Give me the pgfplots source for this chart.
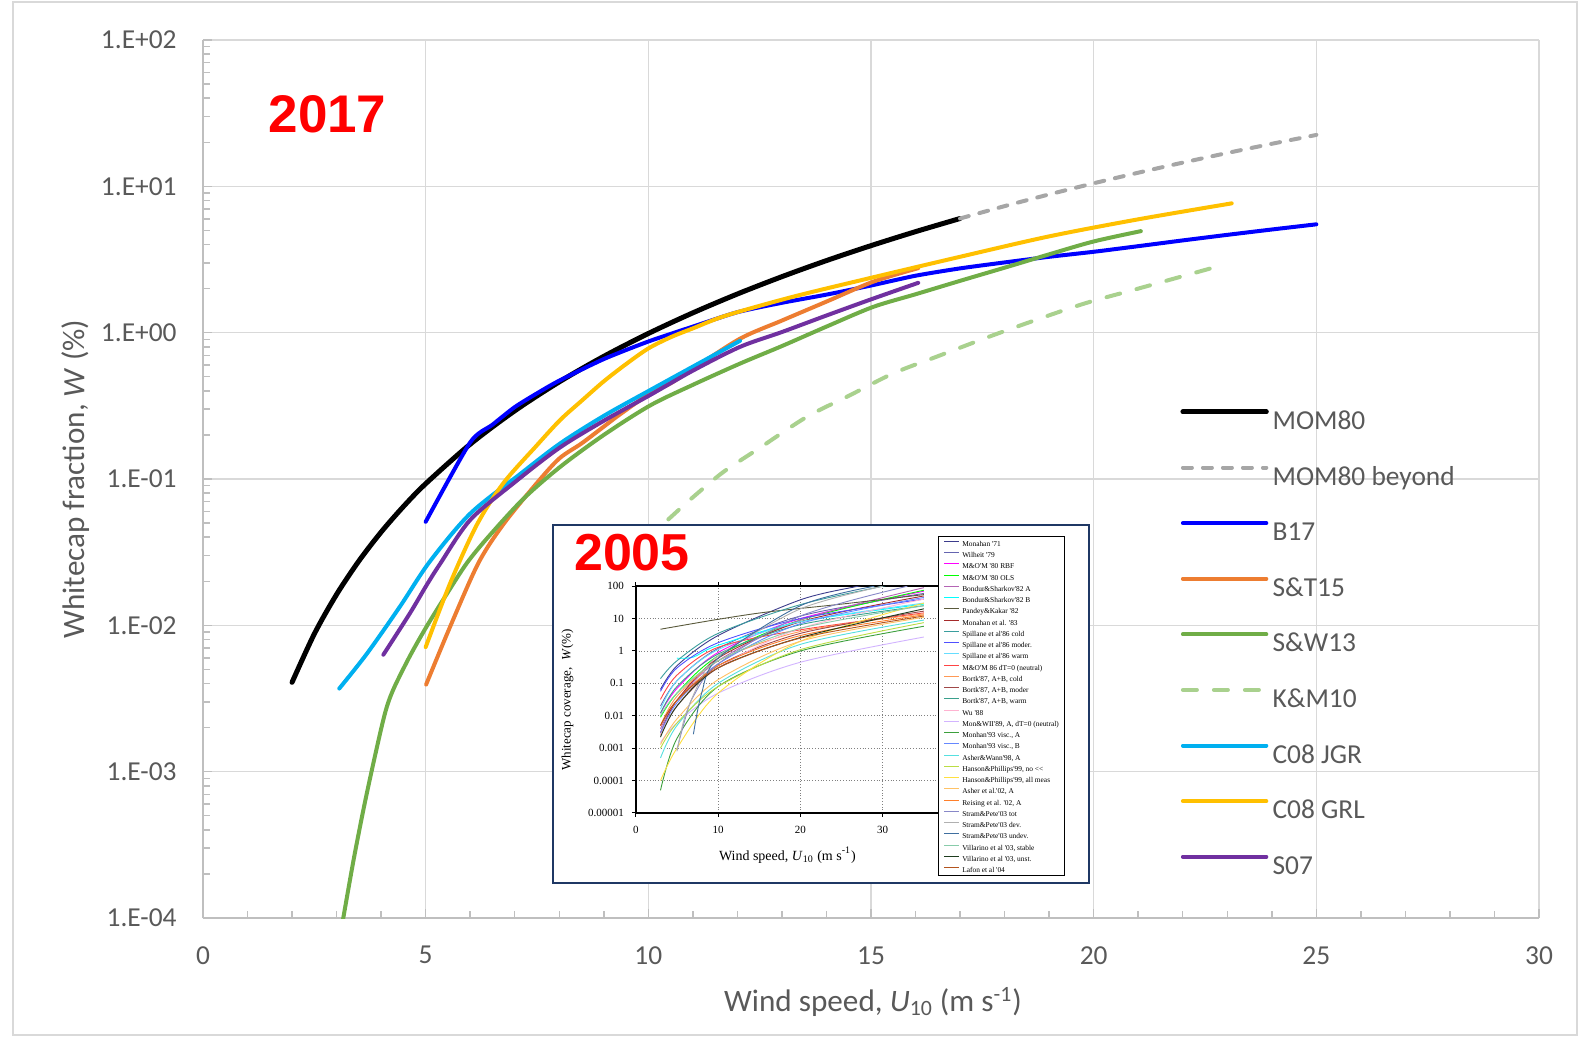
\documentclass[border=0pt]{standalone}
\usepackage{pgfplots}
\pgfplotsset{compat=1.18}
\usepackage{fontspec}
\setmainfont{Carlito}
\newfontfamily\arialfont{Liberation Sans}
\newfontfamily\timesfont{Liberation Serif}
\definecolor{ticktext}{HTML}{595959}
\definecolor{axisgray}{HTML}{BFBFBF}
\definecolor{gridgray}{HTML}{D9D9D9}
\definecolor{navybox}{HTML}{1F3864}
\definecolor{beyond}{HTML}{A6A6A6}
\definecolor{stOrange}{HTML}{ED7D31}
\definecolor{swGreen}{HTML}{70AD47}
\definecolor{kmGreen}{HTML}{A9D18E}
\definecolor{jgr}{HTML}{00B0F0}
\definecolor{grl}{HTML}{FFC000}
\definecolor{sseven}{HTML}{7030A0}
\definecolor{bseventeen}{HTML}{0000FF}
% inset colours
\definecolor{i1}{HTML}{3C3C8C}
\definecolor{i2}{HTML}{6565B0}
\definecolor{i3}{HTML}{FF00FF}
\definecolor{i4}{HTML}{00FF00}
\definecolor{i5}{HTML}{B464B4}
\definecolor{i6}{HTML}{00FFFF}
\definecolor{i7}{HTML}{5A5A3C}
\definecolor{i8}{HTML}{A52A2A}
\definecolor{i9}{HTML}{3A9E9E}
\definecolor{i10}{HTML}{5050FF}
\definecolor{i11}{HTML}{66DDFF}
\definecolor{i12}{HTML}{FF4444}
\definecolor{i13}{HTML}{FF9955}
\definecolor{i14}{HTML}{A04848}
\definecolor{i15}{HTML}{3AA08C}
\definecolor{i16}{HTML}{FFB3D1}
\definecolor{i17}{HTML}{D2B4FF}
\definecolor{i18}{HTML}{3CA03C}
\definecolor{i19}{HTML}{6688FF}
\definecolor{i20}{HTML}{55E0E0}
\definecolor{i21}{HTML}{BBDD44}
\definecolor{i22}{HTML}{FFE040}
\definecolor{i23}{HTML}{FFC266}
\definecolor{i24}{HTML}{FF7F2A}
\definecolor{i25}{HTML}{8888C8}
\definecolor{i26}{HTML}{B0B0B0}
\definecolor{i27}{HTML}{3F6F9F}
\definecolor{i28}{HTML}{88CCAA}
\definecolor{i29}{HTML}{1E3C1E}
\definecolor{i30}{HTML}{B3541E}
\begin{document}
\begin{tikzpicture}
\useasboundingbox (-101.5pt,-60pt) rectangle (688.5pt,459pt);
\draw[gridgray, line width=0.75pt] (-95pt,-58.5pt) rectangle (687pt,458pt);
\begin{axis}[
  at={(0pt,0pt)}, anchor=south west,
  scale only axis, width=668pt, height=439pt,
  xmin=0, xmax=30, ymode=log, ymin=1e-4, ymax=1e2,
  axis x line*=bottom, axis y line*=left,
  axis line style={draw=axisgray, line width=1pt},
  xtick={0,5,10,15,20,25,30},
  xticklabels={0,5,10,15,20,25,30},
  minor xtick={1,2,3,4,6,7,8,9,11,12,13,14,16,17,18,19,21,22,23,24,26,27,28,29},
  ytick={1e-4,1e-3,1e-2,1e-1,1,10,100},
  yticklabels={1.E-04,1.E-03,1.E-02,1.E-01,1.E+00,1.E+01,1.E+02},
  minor ytick={2e-4,3e-4,4e-4,5e-4,6e-4,7e-4,8e-4,9e-4,2e-3,3e-3,4e-3,5e-3,6e-3,7e-3,8e-3,9e-3,2e-2,3e-2,4e-2,5e-2,6e-2,7e-2,8e-2,9e-2,0.2,0.3,0.4,0.5,0.6,0.7,0.8,0.9,2,3,4,5,6,7,8,9,20,30,40,50,60,70,80,90},
  grid=major, major grid style={draw=gridgray, line width=0.75pt},
  tick style={draw=axisgray, line width=0.75pt},
  tick align=inside, major tick length=4.5pt, minor tick length=3.4pt,
  xticklabel style={font=\fontsize{13.7}{16}\selectfont, text=ticktext, inner sep=0pt, anchor=north, yshift=-14pt},
  yticklabel style={font=\fontsize{13.7}{16}\selectfont, text=ticktext, inner sep=0pt, anchor=east, xshift=-13pt},
  legend cell align=left,
  legend style={at={(rel axis cs:0.7313,0.5897)}, anchor=north west, draw=none, fill=none, inner sep=0pt,
    /tikz/row sep=13.6pt,
    nodes={inner sep=0pt, text height=8.8pt, text depth=0pt, font=\fontsize{13.7}{16}\selectfont, text=ticktext}},
  legend image code/.code={\draw[#1] (0pt,4.4pt) -- (41.7pt,4.4pt); \path (0pt,0pt) (43.6pt,8.8pt);},
]
\addplot[black, line width=2.5pt, line cap=round, smooth] coordinates {
(2,0.00408) (2.5,0.00874) (3,0.01627) (3.5,0.02752) (4,0.04339) (4.5,0.06481) (5,0.09285) (6,0.1729) (7,0.2924) (8,0.4611) (9,0.6890) (10,0.9870) (11,1.366) (12,1.838) (13,2.414) (14,3.109) (15,3.933) (16,4.901) (17,6.027)};
\addlegendentry{MOM80}
\addplot[beyond, line width=2pt, line cap=round, dash pattern=on 4.5pt off 5.5pt, smooth] coordinates {
(17,6.027) (18,7.324) (19,8.806) (20,10.49) (21,12.39) (22,14.52) (23,16.90) (24,19.53) (25,22.45)};
\addlegendentry{MOM80 beyond}
\addplot[bseventeen, line width=2pt, line cap=round, smooth, tension=0.4] coordinates {
(5,0.051) (6,0.178) (6.5,0.235) (7,0.31) (7.5,0.385) (8,0.47) (9,0.66) (10,0.87) (11,1.1) (12,1.38) (13,1.6) (14,1.82) (15,2.1) (16,2.45) (17,2.75) (18,3.02) (19,3.3) (20,3.57) (21,3.9) (22,4.27) (23,4.66) (24,5.07) (25,5.5)};
\addlegendentry{B17}
\addplot[stOrange, line width=2pt, line cap=round, smooth] coordinates {
(5.01,0.00394) (5.55,0.0098) (6.18,0.0265) (6.74,0.0488) (7.49,0.0933) (8,0.138) (8.5,0.175) (9,0.228) (9.36,0.276) (10.04,0.385) (10.49,0.449) (11,0.565) (12.06,0.91) (13,1.21) (14,1.63) (15.05,2.23) (16.06,2.76)};
\addlegendentry{S\&T15}
\addplot[swGreen, line width=2pt, line cap=round, smooth] coordinates {
(3.1,0.000082) (3.15,0.0001) (3.38,0.000248) (3.6,0.000546) (3.79,0.00102) (4.01,0.00202) (4.14,0.00285) (4.3,0.0038) (4.65,0.0062) (5.02,0.0098) (5.47,0.0163) (5.92,0.0265) (6.4,0.040) (7.19,0.073) (8.02,0.121) (9,0.2) (10.04,0.318) (11,0.44) (12.06,0.615) (13,0.81) (14,1.1) (15.05,1.5) (16,1.83) (17,2.26) (18,2.78) (19,3.43) (20,4.2) (21.06,4.94)};
\addlegendentry{S\&W13}
\addplot[kmGreen, line width=2pt, line cap=round, dash pattern=on 7pt off 8.5pt, smooth] coordinates {
(10.45,0.053) (11,0.075) (11.69,0.112) (12.5,0.163) (13.56,0.266) (14.5,0.37) (15.5,0.527) (16.5,0.69) (17.9,1.0) (19.7,1.55) (21,2.0) (22.9,2.9)};
\addlegendentry{K\&M10}
\addplot[jgr, line width=2pt, line cap=round, smooth] coordinates {
(3.06,0.0037) (3.68,0.0064) (4.42,0.0134) (5.09,0.0272) (6,0.058) (7.12,0.108) (8.02,0.175) (9,0.27) (10.04,0.405) (11,0.586) (12.06,0.88)};
\addlegendentry{C08 JGR}
\addplot[grl, line width=2pt, line cap=round, smooth] coordinates {
(5,0.0071) (5.55,0.0194) (6.15,0.0487) (6.74,0.0933) (7.49,0.169) (8.02,0.253) (8.5,0.342) (9,0.465) (9.5,0.61) (10,0.78) (10.5,0.93) (11,1.07) (11.75,1.31) (13.25,1.76) (15,2.37) (17,3.3) (19,4.55) (21,5.95) (23.1,7.65)};
\addlegendentry{C08 GRL}
\addplot[sseven, line width=2pt, line cap=round, smooth] coordinates {
(4.05,0.0063) (4.64,0.012) (5.02,0.0188) (5.32,0.0262) (6,0.0525) (7,0.095) (8,0.163) (9,0.25) (10.04,0.375) (11,0.55) (12.06,0.80) (13,1.01) (14,1.31) (15.05,1.71) (16.06,2.19)};
\addlegendentry{S07}
\end{axis}
\node[text=red, font=\arialfont\bfseries\fontsize{26.5}{30}\selectfont] at (62.25pt,402pt) {2017};
\node[rotate=90, text=ticktext, font=\fontsize{15.6}{18}\selectfont] at (-63.7pt,219.5pt) {Whitecap fraction, \textit{W} (\%)};
\node[text=ticktext, font=\fontsize{15.6}{18}\selectfont] at (335pt,-41.9pt) {Wind speed, \textit{U}\textsubscript{10} (m s\textsuperscript{-1})};
% inset
\filldraw[fill=white, draw=navybox, line width=1pt] (175pt,17.5pt) rectangle (443pt,196.5pt);
\begin{axis}[
  at={(216.4pt,52.5pt)}, anchor=south west,
  scale only axis, width=164.6pt, height=113.4pt,
  xmin=0, xmax=40, ymode=log, ymin=1e-5, ymax=100,
  xtick={0,10,20,30}, xticklabels={0,10,20,30},
  ytick={1e-5,1e-4,1e-3,1e-2,1e-1,1,10,100},
  yticklabels={0.00001,0.0001,0.001,0.01,0.1,1,10,100},
  yminorticks=false, xminorticks=false,
  grid=major, major grid style={densely dotted, draw=gray, line width=0.35pt},
  axis line style={black, line width=0.7pt},
  tick style={black, line width=0.5pt},
  tick align=outside, major tick length=2pt,
  xticklabel style={font=\timesfont\fontsize{5.5}{6}\selectfont, inner sep=0pt, anchor=north, yshift=-4.5pt},
  yticklabel style={font=\timesfont\fontsize{5.5}{6}\selectfont, inner sep=0pt, anchor=east, xshift=-3.8pt},
  every axis plot/.append style={line width=0.45pt, smooth},
  legend cell align=left,
  legend style={at={(rel axis cs:0.917,1.2232)}, anchor=north west, draw=black, line width=0.4pt, fill=white,
    inner xsep=2.8pt, inner ysep=1.25pt, /tikz/row sep=1.65pt,
    nodes={inner sep=0pt, text height=2.5pt, text depth=0pt, font=\timesfont\fontsize{3.7}{4.4}\selectfont}},
  legend image code/.code={\draw[#1] (0pt,1.25pt) -- (7.5pt,1.25pt); \path (0pt,0pt) (8.85pt,2.5pt);},
]
\addplot[i1] coordinates {(3,0.065) (5,0.35) (10,3) (20,38) (27,100) (30,140)};
\addlegendentry{Monahan '71}
\addplot[i2] coordinates {(3,0.02) (5,0.12) (10,1.2) (20,12) (35,60)};
\addlegendentry{Wilheit '79}
\addplot[i3] coordinates {(3,0.012) (5,0.07) (10,0.9) (20,10) (35,70)};
\addlegendentry{M\&O'M '80 RBF}
\addplot[i4] coordinates {(3,0.009) (5,0.05) (10,0.7) (20,9) (35,75)};
\addlegendentry{M\&O'M '80 OLS}
\addplot[i5] coordinates {(3,0.004) (5,0.03) (10,0.5) (20,9) (35,90)};
\addlegendentry{Bondur\&Sharkov'82 A}
\addplot[i6] coordinates {(5,0.6) (7,0.65) (10,1.5) (20,8) (35,28)};
\addlegendentry{Bondur\&Sharkov'82 B}
\addplot[i7] coordinates {(3,4.7) (10,9.5) (16,16) (25,28) (35,55)};
\addlegendentry{Pandey\&Kakar '82}
\addplot[i8] coordinates {(3,0.003) (5,0.03) (10,0.6) (20,8) (35,50)};
\addlegendentry{Monahan et al. '83}
\addplot[i9] coordinates {(3,0.14) (5,0.5) (10,3.5) (20,27) (30,100) (32,130)};
\addlegendentry{Spillane et al'86 cold}
\addplot[i10] coordinates {(3,0.057) (5,0.3) (10,1.8) (20,10) (35,40)};
\addlegendentry{Spillane et al'86 moder.}
\addplot[i11] coordinates {(3,0.016) (5,0.12) (10,1.1) (20,8) (35,30)};
\addlegendentry{Spillane et al'86 warm}
\addplot[i12] coordinates {(3,0.032) (5,0.18) (10,1.3) (20,4.5) (35,15)};
\addlegendentry{M\&O'M 86 dT=0 (neutral)}
\addplot[i13] coordinates {(3,0.005) (5,0.04) (10,0.5) (20,4) (35,14)};
\addlegendentry{Bortk'87, A+B, cold}
\addplot[i14] coordinates {(3,0.0025) (5,0.02) (10,0.35) (20,3.5) (35,17)};
\addlegendentry{Bortk'87, A+B, moder}
\addplot[i15] coordinates {(3,0.012) (5,0.08) (10,0.8) (20,6.5) (35,25)};
\addlegendentry{Bortk'87, A+B, warm}
\addplot[i16] coordinates {(3,0.0025) (5,0.02) (10,0.3) (20,5) (35,40)};
\addlegendentry{Wu '88}
\addplot[i17] coordinates {(3,0.0015) (5,0.006) (10,0.05) (20,0.45) (35,2.7)};
\addlegendentry{Mon\&WII'89, A, dT=0 (neutral)}
\addplot[i18] coordinates {(3,0.00005) (5,0.002) (10,0.08) (20,1.0) (35,5.8)};
\addlegendentry{Monhan'93 visc., A}
\addplot[i19] coordinates {(3,0.003) (5,0.025) (10,0.4) (20,7) (35,45)};
\addlegendentry{Monhan'93 visc., B}
\addplot[i20] coordinates {(3,0.0005) (5,0.005) (10,0.1) (20,1.6) (35,9)};
\addlegendentry{Asher\&Wann'98, A}
\addplot[i21] coordinates {(3,0.001) (5,0.006) (10,0.08) (20,1.1) (35,7.5)};
\addlegendentry{Hanson\&Phillips'99, no \textless\textless}
\addplot[i22] coordinates {(3,0.0001) (5,0.001) (10,0.05) (20,2) (35,30)};
\addlegendentry{Hanson\&Phillips'99, all meas}
\addplot[i23] coordinates {(3,0.0013) (5,0.008) (10,0.13) (20,2) (35,11)};
\addlegendentry{Asher et al.'02, A}
\addplot[i24] coordinates {(3,0.005) (5,0.03) (10,0.35) (20,3) (35,13)};
\addlegendentry{Reising et al. '02, A}
\addplot[i25] coordinates {(5,0.0009) (6,0.008) (7,0.04) (10,0.4) (20,12) (33,100)};
\addlegendentry{Stram\&Pete'03 tot}
\addplot[i26] coordinates {(5,0.0008) (6,0.01) (8,0.15) (10,0.7) (20,20) (30,100)};
\addlegendentry{Stram\&Pete'03 dev.}
\addplot[i27] coordinates {(7,0.0027) (8,0.05) (10,0.6) (20,25) (29,100)};
\addlegendentry{Stram\&Pete'03 undev.}
\addplot[i28] coordinates {(3,0.01) (5,0.05) (10,0.5) (20,5) (35,25)};
\addlegendentry{Villarino et al '03, stable}
\addplot[i29] coordinates {(3,0.0022) (5,0.02) (10,0.3) (20,2.6) (35,20)};
\addlegendentry{Villarino et al '03, unst.}
\addplot[i30] coordinates {(3,0.005) (5,0.03) (10,0.3) (20,2.5) (35,12)};
\addlegendentry{Lafon et al '04}
\end{axis}
\node[inner sep=0pt, text=red, font=\arialfont\bfseries\fontsize{26}{30}\selectfont] at (214.5pt,182.5pt) {2005};
\node[rotate=90, font=\timesfont\fontsize{6.5}{7}\selectfont] at (182.2pt,109pt) {Whitecap coverage,\; \textit{W}(\%)};
\node[font=\timesfont\fontsize{7}{8}\selectfont] at (292.2pt,31.4pt) {Wind speed, \textit{U}\textsubscript{10} (m s\textsuperscript{-1})};
\end{tikzpicture}
\end{document}
